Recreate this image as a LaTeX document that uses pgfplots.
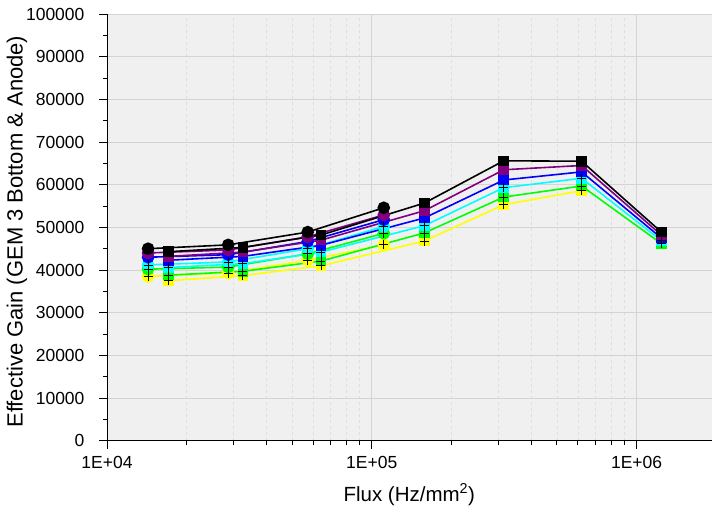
\documentclass[border=0pt]{standalone}
\usepackage{fontspec}
\setmainfont{Liberation Sans}
\usepackage{pgfplots}
\usepackage{pgfplotstable}
\pgfplotsset{compat=1.18}
\definecolor{bgcol}{RGB}{240,240,240}
\definecolor{gridcol}{RGB}{212,212,212}
\definecolor{mgridcol}{RGB}{222,222,222}
\definecolor{cpurple}{RGB}{128,0,128}
\definecolor{cblue}{RGB}{0,0,255}
\definecolor{ccyan}{RGB}{0,255,255}
\definecolor{cgreen}{RGB}{0,255,0}
\definecolor{cyellow}{RGB}{255,255,0}
\newcommand{\tickfont}{\fontsize{17.5}{17.5}\selectfont}

% circle set
\pgfplotstableread{
x       bk     pu     bl     cy     gr     ye
14300   45000  44000  43000  41200  40200  38500
28700   45900  44700  43600  41900  40700  39300
57300   48900  47800  46700  45000  43800  42300
111000  54600  52900  51800  50200  48600  45900
}\circset

% square set
\pgfplotstableread{
x        bk     pu     bl     cy     gr     ye
17100    44300  43200  42300  40600  38800  37500
32600    45300  44200  43200  41500  39700  38700
64300    48200  47000  45800  44200  42100  41000
158000   55700  53900  52200  50400  48700  46800
315000   65600  63500  61100  59300  57100  55300
620000   65500  64500  63000  61500  59700  58600
1240000  48900  48200  47500  46900  46200  nan
}\sqset

\begin{document}
\begin{tikzpicture}
\begin{axis}[
  scale only axis, width=605pt, height=427pt,
  at={(0,0)}, anchor=south west,
  xmode=log, xmin=1e4, xmax=1.92e6, ymin=0, ymax=100000,
  axis lines=left, axis line style={-, line width=0.8pt},
  axis background/.style={fill=bgcol},
  xtick={1e4,1e5,1e6},
  xticklabels={{\tickfont 1E+04},{\tickfont 1E+05},{\tickfont 1E+06}},
  ytick={0,10000,...,100000}, minor y tick num=1,
  scaled y ticks=false,
  yticklabel={\tickfont\pgfmathprintnumber[fixed,1000 sep={},assume math mode=true]{\tick}},
  tick align=outside, major tick length=8pt, minor tick length=4pt,
  every tick/.style={black, line width=0.8pt},
  xmajorgrids, ymajorgrids, xminorgrids,
  major grid style={gridcol, line width=0.8pt},
  minor grid style={mgridcol, dashed, line width=0.6pt},
  x tick label style={yshift=-4pt},
  y tick label style={xshift=-11pt},
  xlabel={Flux (Hz/mm\textsuperscript{2})},
  ylabel={Effective Gain (GEM 3 Bottom \& Anode)},
  every axis x label/.style={at={(axis description cs:0.5,-0.126)}, anchor=center, font=\fontsize{20.5}{21}\selectfont},
  every axis y label/.style={at={(axis description cs:-0.149,0.49)}, rotate=90, anchor=center, font=\fontsize{22}{22}\selectfont},
  clip=false,
]
% circle set
\addplot[cyellow, line width=1.6pt, mark=*, mark size=5.5pt] table[x=x,y=ye] {\circset};
\addplot[cgreen, line width=1.6pt, mark=*, mark size=5.5pt] table[x=x,y=gr] {\circset};
\addplot[ccyan, line width=1.6pt, mark=*, mark size=5.5pt] table[x=x,y=cy] {\circset};
\addplot[cblue, line width=1.6pt, mark=*, mark size=5.5pt] table[x=x,y=bl] {\circset};
\addplot[cpurple, line width=1.6pt, mark=*, mark size=5.5pt] table[x=x,y=pu] {\circset};
\addplot[black, line width=1.6pt, mark=*, mark size=5.5pt] table[x=x,y=bk] {\circset};
% square set
\addplot[cyellow, line width=1.6pt, mark=square*, mark size=4.5pt] table[x=x,y=ye] {\sqset};
\addplot[cgreen, line width=1.6pt, mark=square*, mark size=4.5pt] table[x=x,y=gr] {\sqset};
\addplot[ccyan, line width=1.6pt, mark=square*, mark size=4.5pt] table[x=x,y=cy] {\sqset};
\addplot[cblue, line width=1.6pt, mark=square*, mark size=4.5pt] table[x=x,y=bl] {\sqset};
\addplot[cpurple, line width=1.6pt, mark=square*, mark size=4.5pt] table[x=x,y=pu] {\sqset};
\addplot[black, line width=1.6pt, mark=square*, mark size=4.5pt] table[x=x,y=bk] {\sqset};
% plus overlays
\addplot[black, only marks, mark=+, mark size=4.5pt, line width=0.8pt] table[x=x,y=ye] {\circset};
\addplot[black, only marks, mark=+, mark size=4.5pt, line width=0.8pt] table[x=x,y=gr] {\circset};
\addplot[black, only marks, mark=+, mark size=4.5pt, line width=0.8pt] table[x=x,y=cy] {\circset};
\addplot[black, only marks, mark=+, mark size=4.5pt, line width=0.8pt] table[x=x,y=ye] {\sqset};
\addplot[black, only marks, mark=+, mark size=4.5pt, line width=0.8pt] table[x=x,y=gr] {\sqset};
\addplot[black, only marks, mark=+, mark size=4.5pt, line width=0.8pt] table[x=x,y=cy] {\sqset};
\end{axis}
\path[use as bounding box] (-107pt,-71pt) rectangle (605pt,441pt);
\end{tikzpicture}
\end{document}
